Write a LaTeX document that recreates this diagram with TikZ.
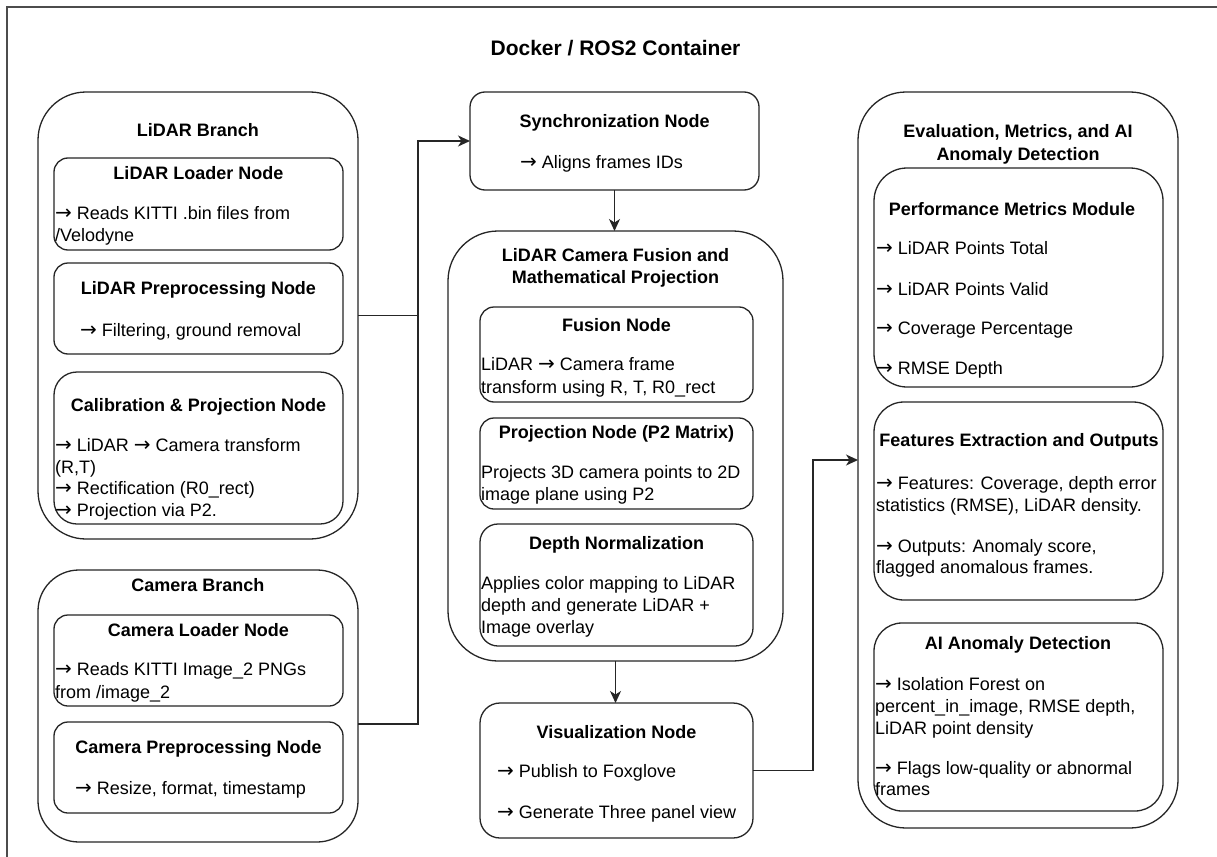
\documentclass[tikz,border=0pt]{standalone}
\usepackage{fontspec}
\setmainfont{Liberation Sans}
\newfontfamily\arrfont{DejaVu Sans}
\usetikzlibrary{arrows.meta,calc}
\newcommand{\bodyfs}{\fontsize{18}{21.6}\selectfont}
\newcommand{\titlefs}{\fontsize{21}{25}\selectfont\bfseries}
\newcommand{\ra}{{\arrfont\fontsize{20}{20}\selectfont →}}
\tikzset{
  box/.style={draw=black!85, line width=1.3pt, inner sep=0pt, outer sep=0pt, fill=white},
  tl/.style={anchor=base west, inner sep=0pt, font=\bodyfs},
  tc/.style={anchor=base, inner sep=0pt, font=\bodyfs},
  th/.style={anchor=base, inner sep=0pt, font=\bodyfs\bfseries},
  conn/.style={draw=black!85, line width=1.3pt},
  arr/.style={conn, -{Stealth[length=12pt,width=11pt,inset=3.5pt]}},
  frame/.style={draw=black!70, line width=1.6pt}
}
\begin{document}
\begin{tikzpicture}[x=1pt,y=-1pt]
\useasboundingbox (0,0) rectangle (1217,856);
\clip (0,0) rectangle (1217,856);
\fill[white] (0,0) rectangle (1217,856);
\draw[frame] (7,7) rectangle (1250,880);
\node[th, font=\titlefs] (title) at (615.5,55.5) {Docker / ROS2 Container};

% ---------- LiDAR branch ----------
\node[box, rounded corners=48pt, minimum width=320pt, minimum height=447pt] (lb) at (198,315.5) {};
\node[th] (lbt) at (198,136) {LiDAR Branch};
\node[box, rounded corners=14pt, minimum width=289pt, minimum height=92pt] (ll) at (198.5,204) {};
\node[th] (llt) at (198.5,179) {LiDAR Loader Node};
\node[tl] (ll1) at (55,219) {\ra{} Reads KITTI .bin files from};
\node[tl] (ll2) at (55,241) {/Velodyne};
\node[box, rounded corners=14pt, minimum width=289pt, minimum height=91pt] (lp) at (198.5,308.5) {};
\node[th] (lpt) at (198.5,294) {LiDAR Preprocessing Node};
\node[tl] (lp1) at (80,336) {\ra{} Filtering, ground removal};
\node[box, rounded corners=23pt, minimum width=289pt, minimum height=152pt] (lc) at (198.5,448) {};
\node[th] (lct) at (198.5,411) {Calibration \& Projection Node};
\node[tl] (lc1) at (55,451) {\ra{} LiDAR \ra{} Camera transform};
\node[tl] (lc2) at (55,473) {(R,T)};
\node[tl] (lc3) at (55,494) {\ra{} Rectification (R0\_rect)};
\node[tl] (lc4) at (55,516) {\ra{} Projection via P2.};

% ---------- Camera branch ----------
\node[box, rounded corners=41pt, minimum width=320pt, minimum height=272pt] (cb) at (198,706) {};
\node[th] (cbt) at (198,591) {Camera Branch};
\node[box, rounded corners=14pt, minimum width=289pt, minimum height=91pt] (cl) at (198.5,660.5) {};
\node[th] (clt) at (198.5,636) {Camera Loader Node};
\node[tl] (cl1) at (55,675) {\ra{} Reads KITTI Image\_2 PNGs};
\node[tl] (cl2) at (55,698) {from /image\_2};
\node[box, rounded corners=14pt, minimum width=289pt, minimum height=91pt] (cp) at (198.5,767.5) {};
\node[th] (cpt) at (198.5,753) {Camera Preprocessing Node};
\node[tl] (cp1) at (75,794) {\ra{} Resize, format, timestamp};

% ---------- Middle column ----------
\node[box, rounded corners=15pt, minimum width=289pt, minimum height=98pt] (sync) at (614.5,141) {};
\node[th] (synct) at (614.5,128) {Synchronization Node};
\node[tl] (sync1) at (520,168) {\ra{} Aligns frames IDs};

\node[box, rounded corners=50pt, minimum width=335pt, minimum height=430pt] (fus) at (615.5,446) {};
\node[th] (fust1) at (615.5,261) {LiDAR Camera Fusion and};
\node[th] (fust2) at (615.5,283) {Mathematical Projection};
\node[box, rounded corners=14pt, minimum width=273pt, minimum height=95pt] (fn) at (616.5,354.5) {};
\node[th] (fnt) at (616.5,331) {Fusion Node};
\node[tl] (fn1) at (481,370) {LiDAR \ra{} Camera frame};
\node[tl] (fn2) at (481,393) {transform using R, T, R0\_rect};
\node[box, rounded corners=14pt, minimum width=273pt, minimum height=91pt] (pn) at (616.5,463.5) {};
\node[th] (pnt) at (616.5,438) {Projection Node (P2 Matrix)};
\node[tl] (pn1) at (481,478) {Projects 3D camera points to 2D};
\node[tl] (pn2) at (481,500) {image plane using P2};
\node[box, rounded corners=18pt, minimum width=273pt, minimum height=122pt] (dn) at (616.5,585) {};
\node[th] (dnt) at (616.5,549) {Depth Normalization};
\node[tl] (dn1) at (481,589) {Applies color mapping to LiDAR};
\node[tl] (dn2) at (481,611) {depth and generate LiDAR +};
\node[tl] (dn3) at (481,633) {Image overlay};

\node[box, rounded corners=20pt, minimum width=273pt, minimum height=135pt] (vis) at (616.5,770.5) {};
\node[th] (vist) at (616.5,738) {Visualization Node};
\node[tl] (vis1) at (497,777) {\ra{} Publish to Foxglove};
\node[tl] (vis2) at (497,818) {\ra{} Generate Three panel view};

% ---------- Right column ----------
\node[box, rounded corners=48pt, minimum width=320pt, minimum height=736pt] (ev) at (1018,460) {};
\node[th] (evt1) at (1018,138) {Evaluation, Metrics, and AI};
\node[th] (evt2) at (1018,160) {Anomaly Detection};
\node[box, rounded corners=33pt, minimum width=289pt, minimum height=219pt] (pm) at (1018.5,277.5) {};
\node[th] (pmt) at (1012,215) {Performance Metrics Module};
\node[tl] (pm1) at (876,254) {\ra{} LiDAR Points Total};
\node[tl] (pm2) at (876,295) {\ra{} LiDAR Points Valid};
\node[tl] (pm3) at (876,334) {\ra{} Coverage Percentage};
\node[tl] (pm4) at (876,374) {\ra{} RMSE Depth};
\node[box, rounded corners=30pt, minimum width=289pt, minimum height=198pt] (fe) at (1018.5,501) {};
\node[th] (fet) at (1019,446) {Features Extraction and Outputs};
\node[tl] (fe1) at (876,489) {\ra{} Features: Coverage, depth error};
\node[tl] (fe2) at (876,511) {statistics (RMSE), LiDAR density.};
\node[tl] (fe3) at (876,552) {\ra{} Outputs: Anomaly score,};
\node[tl] (fe4) at (876,573) {flagged anomalous frames.};
\node[box, rounded corners=28pt, minimum width=289pt, minimum height=188pt] (ai) at (1018.5,717) {};
\node[th] (ait) at (1018,649) {AI Anomaly Detection};
\node[tl] (ai1) at (875,690) {\ra{} Isolation Forest on};
\node[tl] (ai2) at (875,712) {percent\_in\_image, RMSE depth,};
\node[tl] (ai3) at (875,734) {LiDAR point density};
\node[tl] (ai4) at (875,774) {\ra{} Flags low-quality or abnormal};
\node[tl] (ai5) at (875,795) {frames};

% ---------- Connectors ----------
\coordinate (jx) at (418,0);
\coordinate (kx) at (813,0);
\coordinate (cbout) at ($(cb.east)+(0,18)$);
\draw[conn] (lb.east) -- (lb.east -| jx);
\draw[arr] (cbout) -| (jx |- sync.west) -- (sync.west);
\draw[arr] (sync.south) -- (sync.south |- fus.north);
\draw[arr] (fus.south) -- (fus.south |- vis.north);
\draw[arr] (vis.east) -| (kx |- ev.west) -- (ev.west);
\end{tikzpicture}
\end{document}
